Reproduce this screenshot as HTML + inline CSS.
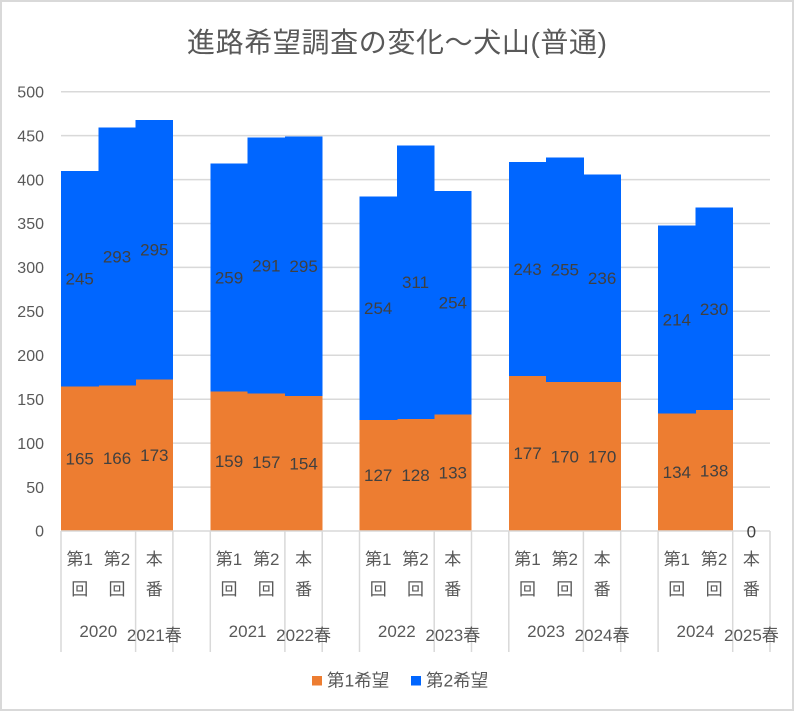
<!DOCTYPE html>
<html>
<head>
<meta charset="utf-8">
<style>
html,body{margin:0;padding:0;background:#fff;}
svg{display:block;}
text{font-family:"Liberation Sans","Noto Sans CJK JP",sans-serif;}
</style>
</head>
<body>
<svg width="794" height="711" viewBox="0 0 794 711" xmlns="http://www.w3.org/2000/svg">
<rect x="1" y="1" width="792" height="709" fill="#fff" stroke="#d9d9d9" stroke-width="2"/>

<!-- title -->
<text x="187" y="52" font-size="28" fill="#595959" textLength="420" lengthAdjust="spacing">進路希望調査の変化～犬山(普通)</text>

<!-- gridlines -->
<g stroke="#d9d9d9" stroke-width="1.5">
<line x1="61" x2="770" y1="91.7" y2="91.7"/>
<line x1="61" x2="770" y1="135.6" y2="135.6"/>
<line x1="61" x2="770" y1="179.6" y2="179.6"/>
<line x1="61" x2="770" y1="223.5" y2="223.5"/>
<line x1="61" x2="770" y1="267.4" y2="267.4"/>
<line x1="61" x2="770" y1="311.3" y2="311.3"/>
<line x1="61" x2="770" y1="355.3" y2="355.3"/>
<line x1="61" x2="770" y1="399.2" y2="399.2"/>
<line x1="61" x2="770" y1="443.1" y2="443.1"/>
<line x1="61" x2="770" y1="487.1" y2="487.1"/>
</g>

<!-- y labels -->
<g font-size="16" fill="#595959" text-anchor="end">
<text x="44" y="97.4">500</text>
<text x="44" y="141.3">450</text>
<text x="44" y="185.3">400</text>
<text x="44" y="229.2">350</text>
<text x="44" y="273.1">300</text>
<text x="44" y="317">250</text>
<text x="44" y="361">200</text>
<text x="44" y="404.9">150</text>
<text x="44" y="448.8">100</text>
<text x="44" y="492.8">50</text>
<text x="44" y="536.7">0</text>
</g>

<!-- orange bars -->
<g fill="#ED7D31" shape-rendering="crispEdges">
<rect x="61.0" y="386.0" width="37.8" height="145"/>
<rect x="98.3" y="385.2" width="37.8" height="145.8"/>
<rect x="135.6" y="379.0" width="37.4" height="152"/>
<rect x="210.3" y="391.3" width="37.8" height="139.7"/>
<rect x="247.6" y="393.1" width="37.8" height="137.9"/>
<rect x="284.9" y="395.7" width="37.4" height="135.3"/>
<rect x="359.5" y="419.4" width="37.8" height="111.6"/>
<rect x="396.8" y="418.5" width="37.8" height="112.5"/>
<rect x="434.2" y="414.1" width="37.4" height="116.9"/>
<rect x="508.8" y="375.5" width="37.8" height="155.5"/>
<rect x="546.1" y="381.6" width="37.8" height="149.4"/>
<rect x="583.4" y="381.6" width="37.4" height="149.4"/>
<rect x="658.1" y="413.3" width="37.8" height="117.7"/>
<rect x="695.4" y="409.8" width="37.4" height="121.2"/>
</g>

<!-- blue bars -->
<g fill="#0066FF" shape-rendering="crispEdges">
<rect x="61.0" y="170.8" width="37.8" height="215.6"/>
<rect x="98.3" y="127.7" width="37.8" height="257.9"/>
<rect x="135.6" y="119.8" width="37.4" height="259.6"/>
<rect x="210.3" y="163.7" width="37.8" height="228"/>
<rect x="247.6" y="137.4" width="37.8" height="256.1"/>
<rect x="284.9" y="136.5" width="37.4" height="259.6"/>
<rect x="359.5" y="196.3" width="37.8" height="223.5"/>
<rect x="396.8" y="145.3" width="37.8" height="273.6"/>
<rect x="434.2" y="191.0" width="37.4" height="223.5"/>
<rect x="508.8" y="162.0" width="37.8" height="213.9"/>
<rect x="546.1" y="157.6" width="37.8" height="224.4"/>
<rect x="583.4" y="174.3" width="37.4" height="207.7"/>
<rect x="658.1" y="225.3" width="37.8" height="188.4"/>
<rect x="695.4" y="207.7" width="37.4" height="202.5"/>
</g>

<!-- axis & category lines -->
<g stroke="#d9d9d9" stroke-width="1.5">
<line x1="61" x2="770" y1="531" y2="531"/>
<line x1="61" x2="61" y1="531" y2="652"/>
<line x1="135.6" x2="135.6" y1="531" y2="652"/>
<line x1="172.9" x2="172.9" y1="531" y2="652"/>
<line x1="210.3" x2="210.3" y1="531" y2="652"/>
<line x1="284.9" x2="284.9" y1="531" y2="652"/>
<line x1="322.2" x2="322.2" y1="531" y2="652"/>
<line x1="359.5" x2="359.5" y1="531" y2="652"/>
<line x1="434.2" x2="434.2" y1="531" y2="652"/>
<line x1="471.5" x2="471.5" y1="531" y2="652"/>
<line x1="508.8" x2="508.8" y1="531" y2="652"/>
<line x1="583.4" x2="583.4" y1="531" y2="652"/>
<line x1="620.7" x2="620.7" y1="531" y2="652"/>
<line x1="658.1" x2="658.1" y1="531" y2="652"/>
<line x1="732.7" x2="732.7" y1="531" y2="652"/>
<line x1="770" x2="770" y1="531" y2="652"/>
</g>

<!-- data labels -->
<g font-size="17" fill="#404040" text-anchor="middle">
<text x="79.7" y="464.5">165</text>
<text x="117.0" y="464.1">166</text>
<text x="154.3" y="461">173</text>
<text x="229.0" y="467.2">159</text>
<text x="266.3" y="468">157</text>
<text x="303.6" y="469.3">154</text>
<text x="378.2" y="481.2">127</text>
<text x="415.5" y="480.8">128</text>
<text x="452.8" y="478.6">133</text>
<text x="527.5" y="459.2">177</text>
<text x="564.8" y="462.3">170</text>
<text x="602.1" y="462.3">170</text>
<text x="676.8" y="478.1">134</text>
<text x="714.1" y="476.4">138</text>

<text x="79.7" y="284.4">245</text>
<text x="117.0" y="262.5">293</text>
<text x="154.3" y="255.4">295</text>
<text x="229.0" y="283.5">259</text>
<text x="266.3" y="271.3">291</text>
<text x="303.6" y="272.1">295</text>
<text x="378.2" y="313.9">254</text>
<text x="415.5" y="287.9">311</text>
<text x="452.8" y="308.6">254</text>
<text x="527.5" y="274.8">243</text>
<text x="564.8" y="275.6">255</text>
<text x="602.1" y="284">236</text>
<text x="676.8" y="325.3">214</text>
<text x="714.1" y="314.8">230</text>
<text x="751.4" y="537.7">0</text>
</g>

<!-- category labels -->
<g font-size="17" fill="#595959" text-anchor="middle">
<text x="79.7" y="564.8">第1</text><text x="79.7" y="594.8">回</text>
<text x="117.0" y="564.8">第2</text><text x="117.0" y="594.8">回</text>
<text x="154.3" y="564.8">本</text><text x="154.3" y="594.8">番</text>
<text x="229.0" y="564.8">第1</text><text x="229.0" y="594.8">回</text>
<text x="266.3" y="564.8">第2</text><text x="266.3" y="594.8">回</text>
<text x="303.6" y="564.8">本</text><text x="303.6" y="594.8">番</text>
<text x="378.2" y="564.8">第1</text><text x="378.2" y="594.8">回</text>
<text x="415.5" y="564.8">第2</text><text x="415.5" y="594.8">回</text>
<text x="452.8" y="564.8">本</text><text x="452.8" y="594.8">番</text>
<text x="527.5" y="564.8">第1</text><text x="527.5" y="594.8">回</text>
<text x="564.8" y="564.8">第2</text><text x="564.8" y="594.8">回</text>
<text x="602.1" y="564.8">本</text><text x="602.1" y="594.8">番</text>
<text x="676.8" y="564.8">第1</text><text x="676.8" y="594.8">回</text>
<text x="714.1" y="564.8">第2</text><text x="714.1" y="594.8">回</text>
<text x="751.4" y="564.8">本</text><text x="751.4" y="594.8">番</text>

<text x="98.3" y="637">2020</text>
<text x="154.3" y="641">2021春</text>
<text x="247.6" y="637">2021</text>
<text x="303.6" y="641">2022春</text>
<text x="396.8" y="637">2022</text>
<text x="452.8" y="641">2023春</text>
<text x="546.1" y="637">2023</text>
<text x="602.1" y="641">2024春</text>
<text x="695.4" y="637">2024</text>
<text x="751.4" y="641">2025春</text>
</g>

<!-- legend -->
<rect x="312" y="676" width="10" height="9.5" fill="#ED7D31"/>
<text x="327" y="686.5" font-size="17.5" fill="#595959">第1希望</text>
<rect x="411" y="676" width="10" height="9.5" fill="#0066FF"/>
<text x="426" y="686.5" font-size="17.5" fill="#595959">第2希望</text>
</svg>
</body>
</html>
